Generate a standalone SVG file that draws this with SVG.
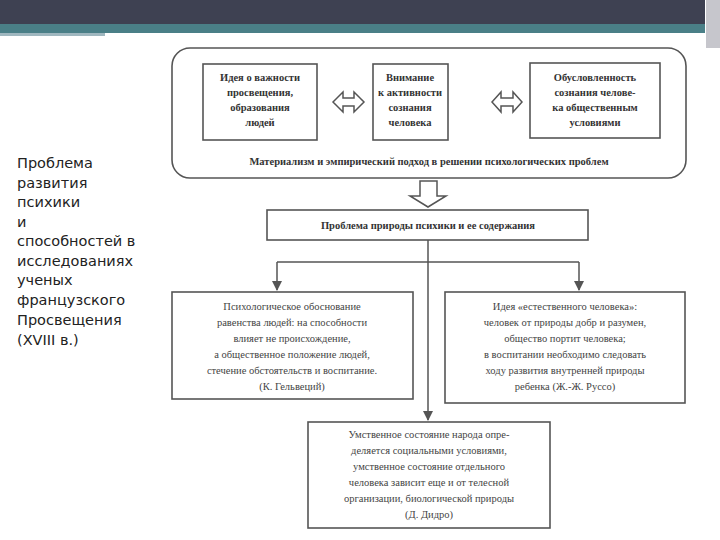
<svg xmlns="http://www.w3.org/2000/svg" width="720" height="540" viewBox="0 0 720 540">
<style>
.b{fill:#fff;stroke:#555;stroke-width:1.6}
.t{font-family:"Liberation Serif",serif;font-size:10.5px;fill:#444;text-anchor:middle}
.tb{font-family:"Liberation Serif",serif;font-size:10.5px;fill:#333;text-anchor:middle;font-weight:bold}
.l{font-family:"DejaVu Sans",sans-serif;font-size:14.5px;fill:#222}
.c{stroke:#555;stroke-width:1.5;fill:none}
</style>
<defs><marker id="a" viewBox="0 0 10 10" refX="9" refY="5" markerWidth="7" markerHeight="7" orient="auto"><path d="M0,0L10,5L0,10z" fill="#555"/></marker></defs>
<rect width="720" height="540" fill="#fff"/>
<rect x="0" y="0" width="705" height="24" fill="#3e4152"/>
<rect x="0" y="24" width="705" height="9" fill="#4a7f87"/>
<rect x="0" y="33" width="105" height="3" fill="#9fb7bf"/>
<rect x="706" y="0" width="14" height="48" fill="#c6c6cc"/>
<g id="left"><text class="l" x="17" y="168">Проблема</text><text class="l" x="17" y="188">развития</text><text class="l" x="17" y="207">психики</text><text class="l" x="17" y="227">и</text><text class="l" x="17" y="246">способностей в</text><text class="l" x="17" y="266">исследованиях</text><text class="l" x="17" y="285">ученых</text><text class="l" x="17" y="305">французского</text><text class="l" x="17" y="325">Просвещения</text><text class="l" x="17" y="345">(XVIII в.)</text></g>
<g id="outer"><rect class="b" x="172" y="48" width="514" height="130" rx="18"/><text class="tb" x="429" y="165">Материализм и эмпирический подход в решении психологических проблем</text></g>
<g id="n1"><rect class="b" x="203" y="64" width="114" height="76"/><text class="tb" x="260" y="81">Идея о важности</text><text class="tb" x="260" y="96">просвещения,</text><text class="tb" x="260" y="111">образования</text><text class="tb" x="260" y="126">людей</text></g>
<g id="n2"><rect class="b" x="373" y="64" width="75" height="76"/><text class="tb" x="410" y="81">Внимание</text><text class="tb" x="410" y="96">к активности</text><text class="tb" x="410" y="111">сознания</text><text class="tb" x="410" y="126">человека</text></g>
<g id="n3"><rect class="b" x="530" y="63" width="130" height="75"/><text class="tb" x="595" y="81">Обусловленность</text><text class="tb" x="595" y="96">сознания челове-</text><text class="tb" x="595" y="111">ка общественным</text><text class="tb" x="595" y="126">условиями</text></g>
<g id="n4"><rect class="b" x="267" y="210" width="321" height="30"/><text class="tb" x="428" y="229">Проблема природы психики и ее содержания</text></g>
<g id="n5"><rect class="b" x="172" y="292" width="241" height="107"/><text class="t" x="292" y="310">Психологическое обоснование</text><text class="t" x="292" y="326">равенства людей: на способности</text><text class="t" x="292" y="342">влияет не происхождение,</text><text class="t" x="292" y="358">а общественное положение людей,</text><text class="t" x="292" y="374">стечение обстоятельств и воспитание.</text><text class="t" x="292" y="390">(К. Гельвеций)</text></g>
<g id="n6"><rect class="b" x="445" y="292" width="240" height="111"/><text class="t" x="565" y="310">Идея «естественного человека»:</text><text class="t" x="565" y="326">человек от природы добр и разумен,</text><text class="t" x="565" y="342">общество портит человека;</text><text class="t" x="565" y="358">в воспитании необходимо следовать</text><text class="t" x="565" y="374">ходу развития внутренней природы</text><text class="t" x="565" y="390">ребенка (Ж.-Ж. Руссо)</text></g>
<g id="n7"><rect class="b" x="308" y="422" width="242" height="106"/><text class="t" x="429" y="438">Умственное состояние народа опре-</text><text class="t" x="429" y="454">деляется социальными условиями,</text><text class="t" x="429" y="470">умственное состояние отдельного</text><text class="t" x="429" y="486">человека зависит еще и от телесной</text><text class="t" x="429" y="502">организации, биологической природы</text><text class="t" x="429" y="518">(Д. Дидро)</text></g>
<g id="connectors">
<path class="c" d="M333,102 L343,92 L343,98 L354,98 L354,92 L364,102 L354,112 L354,106 L343,106 L343,112 Z"/>
<path class="c" d="M492,102 L501,92 L501,98 L513,98 L513,92 L522,102 L513,112 L513,106 L501,106 L501,112 Z"/>
<path class="c" d="M420,181 L437,181 L437,196 L446,196 L428,207 L410,196 L420,196 Z"/>
<path class="c" d="M428,240 L428,420" marker-end="url(#a)"/>
<path class="c" d="M277,262 L579,262"/>
<path class="c" d="M277,262 L277,290" marker-end="url(#a)"/>
<path class="c" d="M579,262 L579,290" marker-end="url(#a)"/>
</g>
</svg>
